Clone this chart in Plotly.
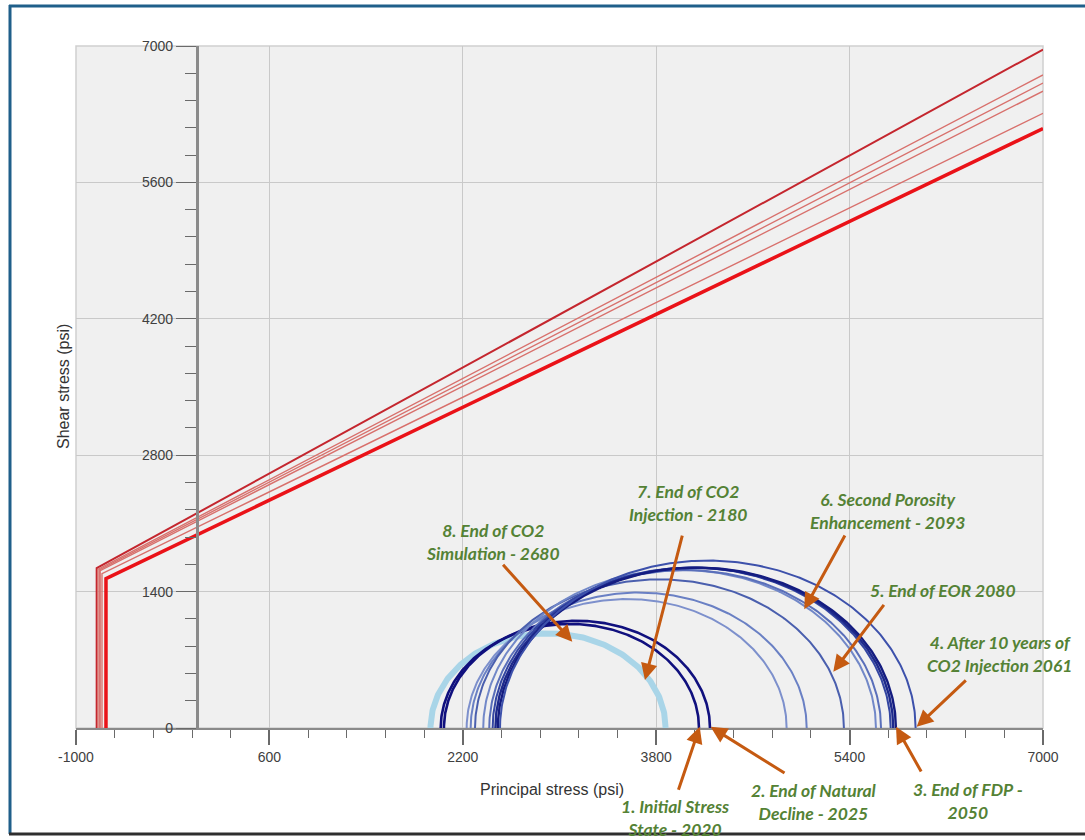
import numpy as np
import plotly.graph_objects as go

# ---- Mohr-Coulomb failure envelopes (one per stage) ----
env_tensile = [829, 820, 808, 800, 785, 752]           # tensile cut-off, psi
env_cohesion = [2204, 2160, 2140, 2120, 2060, 1981]    # shear intercept at sigma = 0, psi
env_friction = [0.680, 0.649, 0.640, 0.631, 0.607, 0.596]  # friction coefficient tan(phi)

# ---- Mohr circles: minimum / maximum principal stress, psi ----
sigma3 = [1933, 2017, 2044, 2232, 2265, 2301, 2369, 2419, 2447, 2470, 2490, 2508]
sigma1 = [3878, 4154, 4245, 4879, 5045, 5353, 5618, 5660, 5740, 5761, 5783, 5946]

# ---- axis ticks ----
x_ticks = [-1000, 600, 2200, 3800, 5400, 7000]
y_ticks = [0, 1400, 2800, 4200, 5600, 7000]

# ---- stage call-outs ----
stage_labels = [
    "1. Initial Stress<br>State - 2020",
    "2. End of Natural<br>Decline - 2025",
    "3. End of FDP -<br>2050",
    "4. After 10 years of<br>CO2 Injection 2061",
    "5. End of EOR 2080",
    "6. Second Porosity<br>Enhancement - 2093",
    "7. End of CO2<br>Injection - 2180",
    "8. End of CO2<br>Simulation - 2680",
]

# styles
env_colors = ["#c4262e", "#d8706c", "#d8706c", "#d8706c", "#d8706c", "#ea1218"]
env_widths = [2, 1.4, 1.4, 1.4, 1.4, 3.5]
circle_colors = ["#a9d5e8", "#10107e", "#10107e",
                 "#7d90cc", "#6a80c4", "#4a5fae", "#7288c8", "#5a6fba",
                 "#3446a2", "#1e2a8c", "#141c80", "#3d51ab"]
circle_widths = [6, 2.6, 2.6, 2, 2, 2, 2, 2, 2, 2.4, 2.4, 2]

X_MAX = 7000
fig = go.Figure()

# failure envelopes: vertical tension cut-off, then linear Coulomb line
for T, c, mu, col, w in zip(env_tensile, env_cohesion, env_friction, env_colors, env_widths):
    xs = [-T, -T, X_MAX]
    ys = [0, c - mu * T, c + mu * X_MAX]
    fig.add_trace(go.Scatter(x=xs, y=ys, mode="lines",
                             line=dict(color=col, width=w), hoverinfo="skip"))

# Mohr semicircles
theta = np.linspace(0, np.pi, 241)
for s3, s1, col, w in zip(sigma3, sigma1, circle_colors, circle_widths):
    centre = (s1 + s3) / 2
    radius = (s1 - s3) / 2
    fig.add_trace(go.Scatter(x=centre + radius * np.cos(theta), y=radius * np.sin(theta),
                             mode="lines", line=dict(color=col, width=w), hoverinfo="skip"))

# plot-area geometry (pixels) used for paper-space placements
L, T_, W, H = 76, 46, 967, 682


def px(xp):
    return (xp - L) / W


def py(yp):
    return (T_ + H - yp) / H


GREEN = "#548235"
ORANGE = "#c55a11"
label_font = dict(family="Lato, Open Sans, sans-serif", size=17.5, color=GREEN)

# label centres (pixels) for each stage
label_pos = [(675, 818), (814, 802), (968, 801), (1000, 654),
             (943, 590), (887, 511), (688, 503), (493, 542)]
annotations = []
for txt, (xp, yp) in zip(stage_labels, label_pos):
    annotations.append(dict(text="<b><i>" + txt + "</i></b>", xref="paper", yref="paper",
                            x=px(xp), y=py(yp), xanchor="center", yanchor="middle",
                            showarrow=False, font=label_font, align="center"))

# arrows: (tail x, tail y) -> (tip x, tip y) in data units
arrow_tail = [(3980, -650), (4874, -472), (5999, -462), (6374, 503),
              (5693, 1280), (5368, 1991), (4019, 1991), (2522, 1690)]
arrow_tip = [(4160, 12), (4250, 12), (5784, 12), (5955, 12),
             (5265, 578), (5025, 1218), (3707, 493), (3106, 886)]
for (tx, ty), (hx, hy) in zip(arrow_tail, arrow_tip):
    annotations.append(dict(x=hx, y=hy, ax=tx, ay=ty, xref="x", yref="y",
                            axref="x", ayref="y", text="", showarrow=True,
                            arrowhead=2, arrowsize=1.1, arrowwidth=3,
                            arrowcolor=ORANGE))

# axis titles
axis_font = dict(family="Liberation Sans, Arial, sans-serif", size=16, color="#333333")
annotations.append(dict(text="Principal stress (psi)", xref="paper", yref="paper",
                        x=px(552), y=py(789), showarrow=False, font=axis_font,
                        xanchor="center", yanchor="middle"))
annotations.append(dict(text="Shear stress (psi)", xref="paper", yref="paper",
                        x=px(63), y=py(387), showarrow=False, font=axis_font,
                        textangle=-90, xanchor="center", yanchor="middle"))

tick_font = dict(family="Liberation Sans, Arial, sans-serif", size=14, color="#404040")

shapes = [
    # light frame around the plotting area
    dict(type="rect", xref="paper", yref="paper", x0=0, x1=1, y0=0, y1=1,
         line=dict(color="#cfcfcf", width=1.5), layer="below"),
    # outer window frame
    dict(type="line", xref="paper", yref="paper", x0=px(10), x1=px(10),
         y0=py(5), y1=py(834), line=dict(color="#1f5f8a", width=3)),
    dict(type="line", xref="paper", yref="paper", x0=px(9), x1=px(1085),
         y0=py(6), y1=py(6), line=dict(color="#1f5f8a", width=3)),
    dict(type="line", xref="paper", yref="paper", x0=px(9), x1=px(1085),
         y0=py(834), y1=py(834), line=dict(color="#2e2e2e", width=3)),
]

fig.update_layout(
    width=1085, height=840, autosize=False,
    margin=dict(l=L, r=1085 - L - W, t=T_, b=840 - T_ - H, pad=0),
    paper_bgcolor="white", plot_bgcolor="#f0f0f0",
    showlegend=False,
    annotations=annotations, shapes=shapes,
    xaxis=dict(range=[-1000, 7000], tickmode="array", tickvals=x_ticks,
               ticktext=[str(v) for v in x_ticks],
               showgrid=True, gridcolor="#c9c9c9", gridwidth=1, zeroline=False,
               showline=True, linecolor="#8a8a8a", linewidth=2,
               ticks="outside", ticklen=15, tickwidth=1.5, tickcolor="#6a6a6a",
               tickfont=tick_font,
               minor=dict(tick0=-1000, dtick=320, ticks="outside", ticklen=8,
                          tickwidth=1.2, tickcolor="#6a6a6a", showgrid=False)),
    yaxis=dict(range=[0, 7000], anchor="free", position=0.125, side="left",
               tickmode="array", tickvals=y_ticks,
               ticktext=[str(v) for v in y_ticks],
               showgrid=True, gridcolor="#c9c9c9", gridwidth=1, zeroline=False,
               showline=True, linecolor="#8a8a8a", linewidth=3,
               ticks="outside", ticklen=20, tickwidth=1.2, tickcolor="#6a6a6a",
               tickfont=tick_font,
               minor=dict(tick0=0, dtick=280, ticks="outside", ticklen=11,
                          tickwidth=1.2, tickcolor="#6a6a6a", showgrid=False)),
)

fig.write_html("out.html")
